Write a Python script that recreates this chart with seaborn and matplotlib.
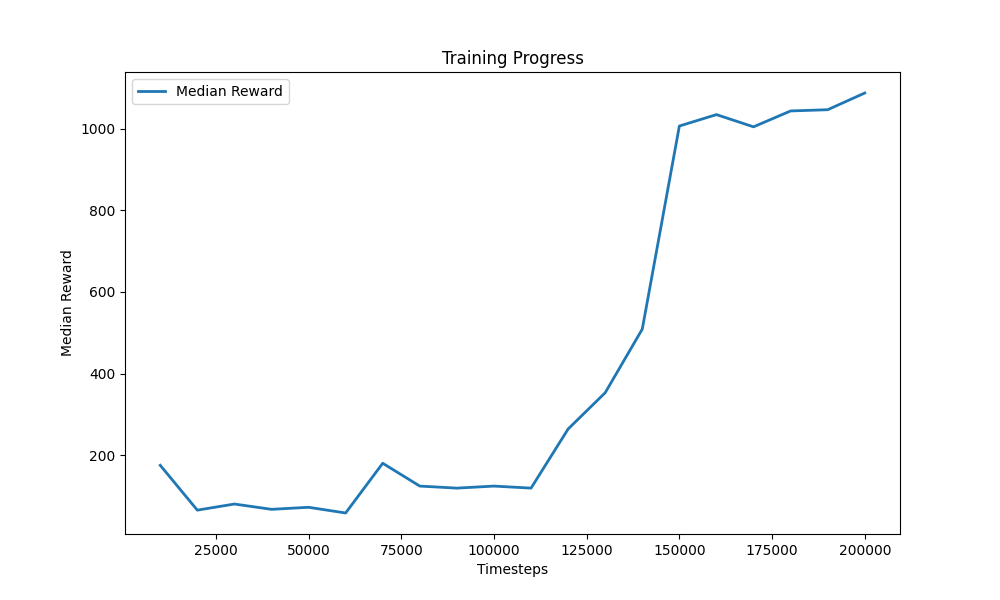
import matplotlib
matplotlib.use("Agg")
import matplotlib.pyplot as plt
import seaborn as sns
import pandas as pd

timesteps = [10000, 20000, 30000, 40000, 50000, 60000, 70000, 80000, 90000, 100000,
             110000, 120000, 130000, 140000, 150000, 160000, 170000, 180000, 190000, 200000]
median_reward = [175, 65, 80, 67, 72, 58, 180, 124, 119, 124,
                 119, 264, 353, 509, 1007, 1035, 1005, 1044, 1047, 1088]

df = pd.DataFrame({"Timesteps": timesteps, "Median Reward": median_reward})

fig, ax = plt.subplots(figsize=(10, 6), dpi=100)
sns.lineplot(data=df, x="Timesteps", y="Median Reward", ax=ax, linewidth=2,
             color="#1f77b4", label="Median Reward")
ax.set_title("Training Progress")
ax.set_xlabel("Timesteps")
ax.set_ylabel("Median Reward")
ax.legend(loc="upper left")
fig.savefig("out.png")
